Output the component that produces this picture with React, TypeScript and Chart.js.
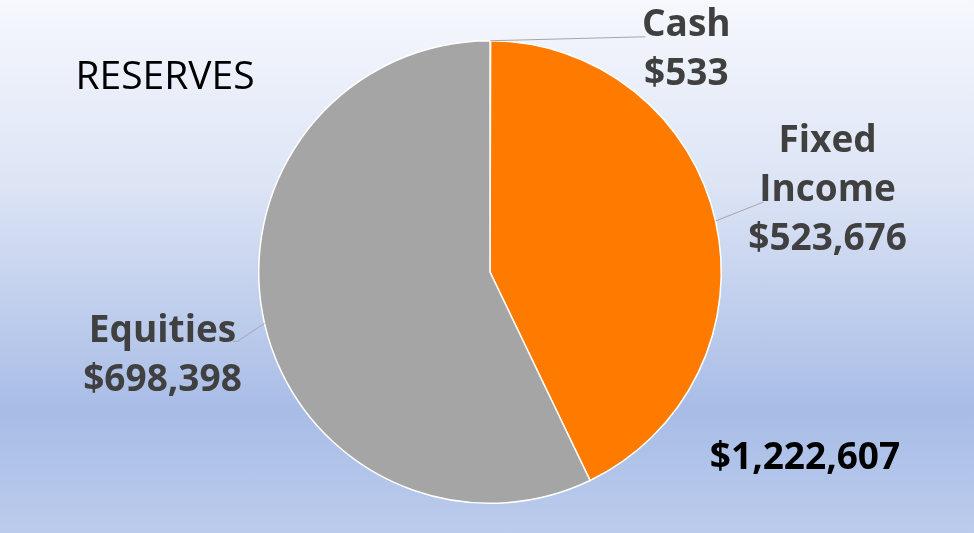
import React, { useEffect, useRef } from "react";
import { Chart, registerables } from "chart.js";

Chart.register(...registerables);

const categories = ["Cash", "Fixed Income", "Equities"];
const labelLines = [["Cash"], ["Fixed", "Income"], ["Equities"]];
const values = [533, 523676, 698398];
const colors = ["#4472C4", "#FF7B00", "#A5A5A5"];
const chartTitle = "RESERVES";

const fmt = (v: number) => "$" + v.toLocaleString("en-US");

// label placement relative to slice edge anchor: [leaderEndDx, leaderEndDy, textDx, textDy, elbowDx]
const labelOffsets = [
  [155, -4, 196, -15, 0],
  [48, -19, 112, -80, 0],
  [-27, 18, -102, 8, -4],
];

const labelPlugin = {
  id: "labelPlugin",
  afterDatasetsDraw(chart: any) {
    const ctx = chart.ctx;
    const meta = chart.getDatasetMeta(0);
    const font = "bold 37px 'Open Sans', sans-serif";
    meta.data.forEach((arc: any, i: number) => {
      const { x, y, startAngle, endAngle, outerRadius } = arc.getProps(
        ["x", "y", "startAngle", "endAngle", "outerRadius"],
        true
      );
      const mid = (startAngle + endAngle) / 2;
      const ax = x + Math.cos(mid) * outerRadius;
      const ay = y + Math.sin(mid) * outerRadius;
      const [lx, ly, tx, ty, ex] = labelOffsets[i];
      ctx.save();
      ctx.strokeStyle = "#A6A6A6";
      ctx.lineWidth = 1;
      ctx.beginPath();
      ctx.moveTo(ax, ay);
      ctx.lineTo(ax + lx, ay + ly);
      if (ex) ctx.lineTo(ax + lx + ex, ay + ly);
      ctx.stroke();
      ctx.fillStyle = "#404040";
      ctx.font = font;
      ctx.textAlign = "center";
      ctx.textBaseline = "middle";
      const lines = [...labelLines[i], fmt(values[i])];
      lines.forEach((t, k) => {
        ctx.fillText(t, ax + tx, ay + ty + k * 49);
      });
      ctx.restore();
    });
    // title and total
    ctx.save();
    ctx.fillStyle = "#000000";
    ctx.textAlign = "center";
    ctx.textBaseline = "middle";
    ctx.font = "39px 'Open Sans', sans-serif";
    ctx.fillText(chartTitle, 165, 78);
    const total = values.reduce((a, b) => a + b, 0);
    ctx.font = "bold 37px 'Open Sans', sans-serif";
    ctx.fillText(fmt(total), 805, 458);
    ctx.restore();
  },
};

export default function App() {
  const ref = useRef<HTMLCanvasElement>(null);
  useEffect(() => {
    document.body.style.margin = "0";
    const chart = new Chart(ref.current!, {
      type: "pie",
      data: {
        labels: categories,
        datasets: [
          {
            data: values,
            backgroundColor: colors,
            borderColor: "#FFFFFF",
            borderWidth: 1.5,
          },
        ],
      },
      options: {
        animation: false,
        responsive: false,
        layout: { padding: { top: 40, bottom: 29, left: 258, right: 252 } },
        plugins: {
          legend: { display: false },
          tooltip: { enabled: false },
        },
      },
      plugins: [labelPlugin],
    });
    return () => chart.destroy();
  }, []);
  return (
    <div
      style={{
        width: 974,
        height: 533,
        background:
          "linear-gradient(to bottom, #F6F8FD 0%, #DCE4F5 35%, #A8BCE6 77%, #BBCCEC 100%)",
      }}
    >
      <canvas ref={ref} width={974} height={533} />
    </div>
  );
}
